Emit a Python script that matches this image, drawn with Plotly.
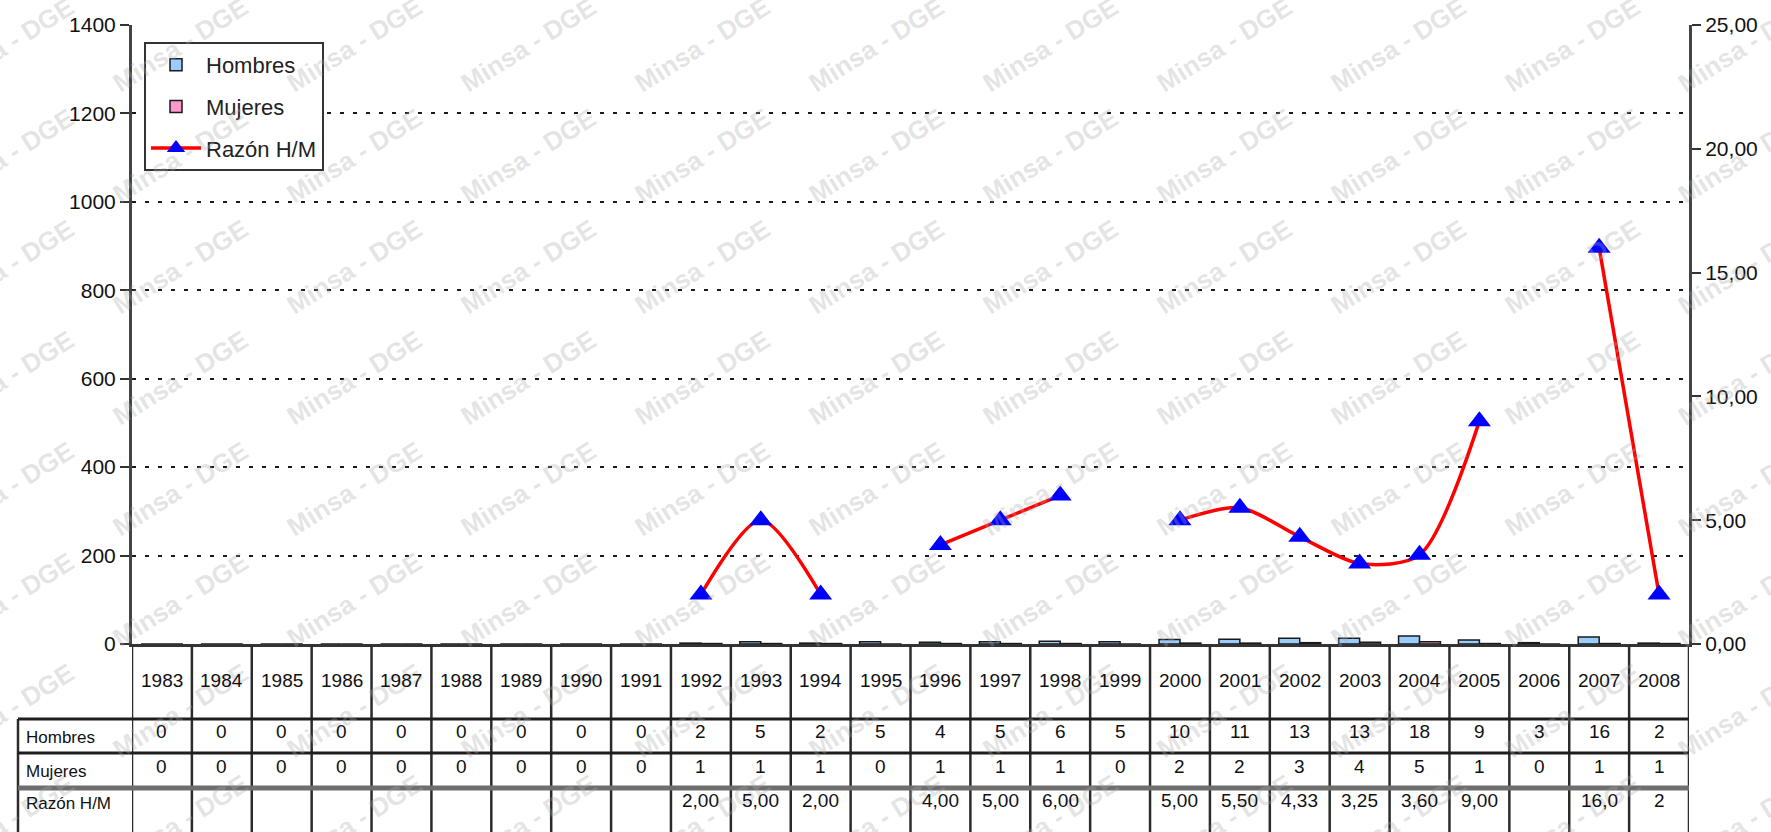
import plotly.graph_objects as go

# ---------------- data ----------------
years = [str(y) for y in range(1983, 2009)]
hombres = [0, 0, 0, 0, 0, 0, 0, 0, 0, 2, 5, 2, 5, 4, 5, 6, 5, 10, 11, 13, 13, 18, 9, 3, 16, 2]
mujeres = [0, 0, 0, 0, 0, 0, 0, 0, 0, 1, 1, 1, 0, 1, 1, 1, 0, 2, 2, 3, 4, 5, 1, 0, 1, 1]
razon = [None] * 9 + [2.00, 5.00, 2.00, None, 4.00, 5.00, 6.00, None,
                      5.00, 5.50, 4.33, 3.25, 3.60, 9.00, None, 16.0, 2.0]
razon_text = [""] * 9 + ["2,00", "5,00", "2,00", "", "4,00", "5,00", "6,00", "",
                         "5,00", "5,50", "4,33", "3,25", "3,60", "9,00", "", "16,0", "2"]
row_labels = ["Hombres", "Mujeres", "Razón H/M"]
left_ticks = [0, 200, 400, 600, 800, 1000, 1200, 1400]
right_ticks = [0, 5, 10, 15, 20, 25]
right_ticktext = ["0,00", "5,00", "10,00", "15,00", "20,00", "25,00"]
watermark = "Minsa - DGE"

# ---------------- geometry ----------------
W, H = 1771, 832
L, R, T, B = 132, 82, 25, 188
PW, PH = W - L - R, H - T - B
Y0 = H - B  # pixel y of the plot bottom

def py(p):  # pixel y -> paper y
    return (Y0 - p) / PH

def px(p):  # pixel x -> paper x
    return (p - L) / PW

FONT = "Liberation Sans, Arial, sans-serif"
n = len(years)
xs = list(range(n))

fig = go.Figure()
fig.add_trace(go.Bar(x=xs, y=hombres, name="Hombres", legendgroup="a",
                     marker=dict(color="#99CCFF", line=dict(color="#1a1a1a", width=1.5))))
fig.add_trace(go.Bar(x=xs, y=mujeres, name="Mujeres", legendgroup="b",
                     marker=dict(color="#FF99CC", line=dict(color="#1a1a1a", width=1.5))))
fig.add_trace(go.Scatter(x=xs, y=razon, name="Razón H/M", yaxis="y2", legendgroup="c",
                         mode="lines+markers", connectgaps=False,
                         line=dict(color="#FF0000", width=3.5, shape="spline", smoothing=0.8),
                         marker=dict(symbol="triangle-up", size=20, color="#0000FF")))

shapes = []
annotations = []

# watermark lattice
for i in range(-1, 12):
    for j in range(-1, 9):
        cx = 6 + 174 * i
        cy = 45 + 111 * j
        annotations.append(dict(x=px(cx), y=py(cy), xref="paper", yref="paper",
                                text=watermark, showarrow=False, textangle=-32,
                                font=dict(family=FONT, size=26,
                                          color="rgba(170,170,170,0.33)", weight="bold"),
                                xanchor="center", yanchor="middle"))

# table lines
LINE = "#2b2b2b"
tbl_top, r1, r2, r3, tbl_bot = 646, 719, 753, 788, 840
lab_left = 18
for k in range(n + 1):
    shapes.append(dict(type="line", xref="x", yref="paper", x0=k - 0.5, x1=k - 0.5,
                       y0=py(tbl_top), y1=py(tbl_bot), line=dict(color=LINE, width=2.5)))
shapes.append(dict(type="line", xref="paper", yref="paper", x0=px(lab_left), x1=px(lab_left),
                   y0=py(r1), y1=py(tbl_bot), line=dict(color=LINE, width=2.5)))
for yy, col, wd in [(r1, "#1e1e1e", 3), (r2, "#1e1e1e", 3), (r3, "#6e6e6e", 5)]:
    shapes.append(dict(type="line", xref="paper", yref="paper", x0=px(lab_left), x1=1,
                       y0=py(yy), y1=py(yy), line=dict(color=col, width=wd)))

TFONT = dict(family=FONT, size=19, color="#111111")
for i in range(n):
    annotations.append(dict(x=i, y=py(680), xref="x", yref="paper", text=years[i],
                            showarrow=False, font=TFONT, xanchor="center", yanchor="middle"))
    annotations.append(dict(x=i, y=py(731), xref="x", yref="paper", text=str(hombres[i]),
                            showarrow=False, font=TFONT, xanchor="center", yanchor="middle"))
    annotations.append(dict(x=i, y=py(766), xref="x", yref="paper", text=str(mujeres[i]),
                            showarrow=False, font=TFONT, xanchor="center", yanchor="middle"))
    if razon_text[i]:
        annotations.append(dict(x=i, y=py(800), xref="x", yref="paper", text=razon_text[i],
                                showarrow=False, font=TFONT, xanchor="center", yanchor="middle"))
for lab, yy in zip(row_labels, [737, 771, 803]):
    annotations.append(dict(x=px(24), y=py(yy), xref="paper", yref="paper", text=lab,
                            showarrow=False, font=dict(family=FONT, size=17, color="#111111"),
                            xanchor="left", yanchor="middle"))

fig.update_layout(
    width=W, height=H,
    margin=dict(l=L, r=R, t=T, b=B, autoexpand=False),
    paper_bgcolor="white", plot_bgcolor="white",
    barmode="group", bargap=0.3, bargroupgap=0.0,
    showlegend=True,
    legend=dict(x=px(144), y=py(42), xanchor="left", yanchor="top",
                bgcolor="white", bordercolor="#333333", borderwidth=2,
                font=dict(family=FONT, size=22, color="#222222"),
                traceorder="grouped", tracegroupgap=10, itemwidth=50),
    xaxis=dict(range=[-0.5, n - 0.5], showticklabels=False, ticks="", showgrid=False,
               zeroline=False, showline=True, linecolor="#333333", linewidth=3),
    yaxis=dict(range=[0, 1400], tickvals=left_ticks, ticks="outside", ticklen=9,
               tickwidth=2, tickcolor="#333333", showline=True, linecolor="#444444",
               linewidth=3, zeroline=False, showgrid=True, gridcolor="#1a1a1a",
               gridwidth=2, griddash="4px,9px",
               tickfont=dict(family=FONT, size=21, color="#111111")),
    yaxis2=dict(range=[0, 25], overlaying="y", side="right", tickvals=right_ticks,
                ticktext=right_ticktext, ticks="outside", ticklen=9, tickwidth=2,
                tickcolor="#333333", showline=True, linecolor="#444444", linewidth=3,
                showgrid=False, zeroline=False,
                tickfont=dict(family=FONT, size=21, color="#111111")),
    shapes=shapes,
    annotations=annotations,
)

fig.write_html("out.html", config={"displayModeBar": False},
               post_script="document.body.style.margin='0';document.body.style.overflow='hidden';")
